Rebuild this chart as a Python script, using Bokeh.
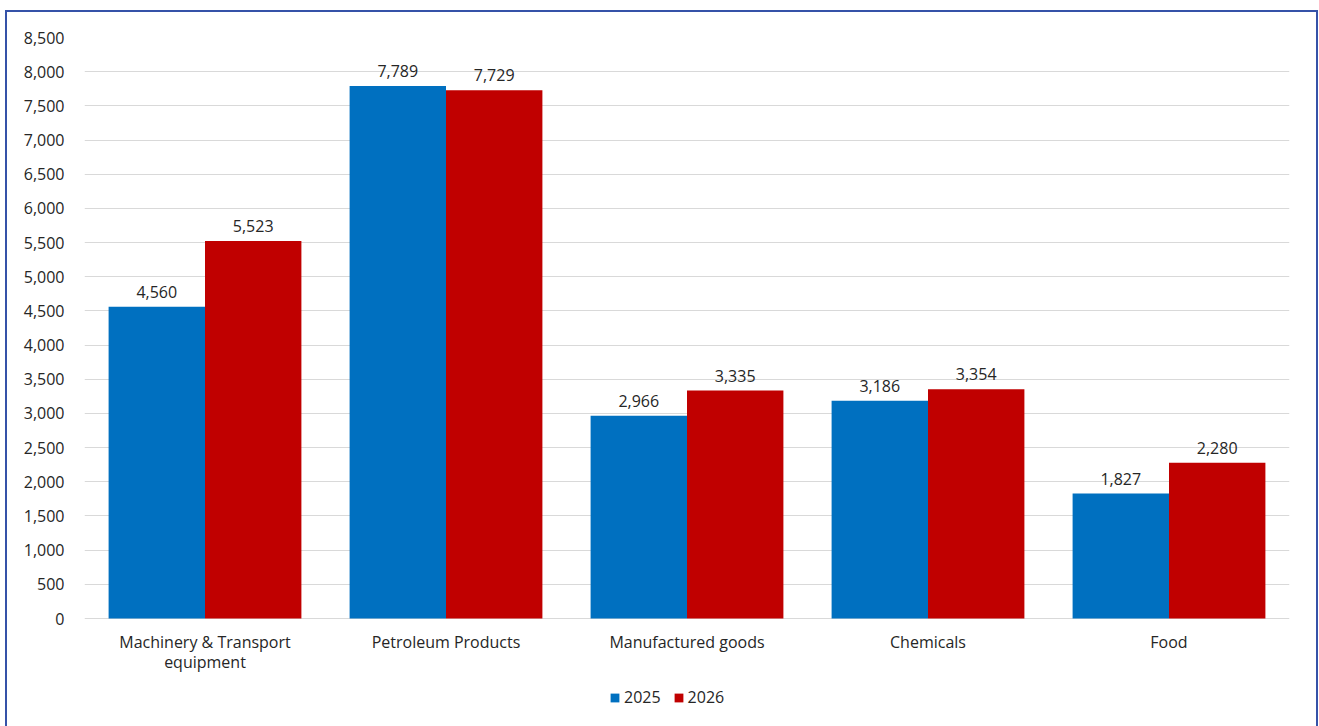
from bokeh.plotting import figure
from bokeh.models import (ColumnDataSource, FactorRange, Legend, LegendItem,
                          NumeralTickFormatter, FixedTicker)
from bokeh.transform import dodge
from bokeh.core.properties import value
from bokeh.embed import file_html
from bokeh.resources import INLINE

categories = ["Machinery & Transport equipment", "Petroleum Products", "Manufactured goods", "Chemicals", "Food"]
category_line1 = ["Machinery & Transport", "Petroleum Products", "Manufactured goods", "Chemicals", "Food"]
category_line2 = ["equipment", "", "", "", ""]
values_2025 = [4560, 7789, 2966, 3186, 1827]
values_2026 = [5523, 7729, 3335, 3354, 2280]
series_names = ["2025", "2026"]
y_ticks = list(range(0, 8501, 500))

FONT = "Open Sans"
TXT = "#262626"
FS = "16px"

# frame spans from the 8,500 line down to the bottom of the card; the area below
# zero holds the category labels and legend (so they are not clipped)
PX_PER_UNIT = 581 / 8500
FRAME_H = 691
Y_MIN = 8500 - FRAME_H / PX_PER_UNIT

src = ColumnDataSource(dict(
    cat=categories,
    line1=category_line1,
    line2=category_line2,
    zero=[0] * len(categories),
    v25=values_2025,
    v26=values_2026,
    l25=[f"{v:,}" for v in values_2025],
    l26=[f"{v:,}" for v in values_2026],
))

p = figure(x_range=FactorRange(*categories, range_padding=0), y_range=(Y_MIN, 8500),
           width=1309, height=716, output_backend="svg", toolbar_location=None,
           min_border_left=77, min_border_right=27, min_border_top=25, min_border_bottom=0,
           styles={"margin-left": "7px", "margin-top": "12px",
                   "outline": "2px solid #3552a8"})

r1 = p.vbar(x=dodge("cat", -0.2, range=p.x_range), top="v25", width=0.4, source=src,
            fill_color="#0070c0", line_color=None)
r2 = p.vbar(x=dodge("cat", 0.2, range=p.x_range), top="v26", width=0.4, source=src,
            fill_color="#c00000", line_color=None)

for xoff, col, lab in [(-0.2, "v25", "l25"), (0.2, "v26", "l26")]:
    p.text(x=dodge("cat", xoff, range=p.x_range), y=col, text=lab, source=src,
           text_align="center", text_baseline="bottom", y_offset=-9,
           text_font=value(FONT), text_font_size=FS, text_color=TXT)

# category labels (two lines) under the zero line
for col, off in [("line1", 23), ("line2", 43)]:
    p.text(x="cat", y="zero", text=col, source=src,
           text_align="center", text_baseline="middle", y_offset=off,
           text_font=value(FONT), text_font_size=FS, text_color=TXT)

p.outline_line_color = None
p.xgrid.grid_line_color = None
p.ygrid.grid_line_color = "#d9d9d9"
p.ygrid.grid_line_width = 1

p.yaxis.ticker = FixedTicker(ticks=y_ticks)
p.yaxis.formatter = NumeralTickFormatter(format="0,0")
p.yaxis.axis_line_color = None
p.yaxis.major_tick_line_color = None
p.yaxis.minor_tick_line_color = None
p.yaxis.major_label_text_font = FONT
p.yaxis.major_label_text_font_size = FS
p.yaxis.major_label_text_color = TXT
p.yaxis.major_label_standoff = 14

p.xaxis.visible = False

legend = Legend(items=[LegendItem(label=series_names[0], renderers=[r1]),
                       LegendItem(label=series_names[1], renderers=[r2])],
                orientation="horizontal", location=(525, 20),
                border_line_color=None, background_fill_alpha=0,
                label_text_font=FONT, label_text_font_size=FS, label_text_color=TXT,
                glyph_width=11, glyph_height=11, spacing=12, padding=0, margin=0,
                label_standoff=4)
p.add_layout(legend)

open("out.html", "w").write(file_html(p, INLINE))
